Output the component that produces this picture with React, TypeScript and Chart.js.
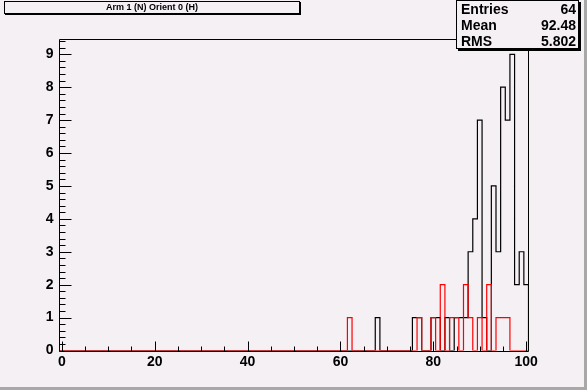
import React, { useEffect, useRef } from 'react';
import { Chart, registerables } from 'chart.js';

Chart.register(...registerables);

const TITLE = 'Arm 1 (N) Orient 0 (H)';
const X_MIN = -0.5;
const X_MAX = 100.5;
const Y_MAX = 9.45;
const N_BINS = 101;

const xTickLabels = [0, 20, 40, 60, 80, 100];
const yTickLabels = [0, 1, 2, 3, 4, 5, 6, 7, 8, 9];

// black histogram: bin centres and their counts
const blackBins = [68, 76, 77, 80, 81, 83, 85, 86, 87, 88, 89, 90, 91, 93, 94, 95, 96, 97, 98, 99, 100];
const blackCounts = [1, 1, 1, 1, 1, 1, 1, 1, 1, 3, 4, 7, 1, 5, 3, 8, 7, 9, 2, 3, 2];

// red histogram: bin centres and their counts
const redBins = [62, 77, 80, 82, 84, 85, 87, 88, 90, 92, 94, 95, 96];
const redCounts = [1, 1, 1, 2, 1, 1, 2, 1, 1, 2, 1, 1, 1];

const statsLabels = ['Entries', 'Mean', 'RMS'];
const statsValues = ['64', '92.48', '5.802'];

const BG = '#f4f0f4';
const FONT = '"Liberation Sans", Arial, Helvetica, sans-serif';

function outline(bins: number[], counts: number[]) {
  const values = new Array(N_BINS).fill(0);
  bins.forEach((b, i) => {
    values[b] += counts[i];
  });
  const pts: { x: number; y: number }[] = [{ x: X_MIN, y: 0 }];
  for (let i = 0; i < N_BINS; i++) pts.push({ x: i + 0.5, y: values[i] });
  pts.push({ x: X_MAX, y: 0 });
  return pts;
}

const framePlugin = {
  id: 'rootFrame',
  afterDatasetsDraw(chart: any) {
    const { ctx, chartArea, scales } = chart;
    const { left, right, top, bottom } = chartArea;
    const xs = scales.x;
    const ys = scales.y;
    ctx.save();
    ctx.lineWidth = 1;
    ctx.strokeStyle = '#000';
    ctx.beginPath();
    ctx.moveTo(left, top);
    ctx.lineTo(right, top);
    ctx.lineTo(right, bottom + 1);
    ctx.stroke();
    ctx.beginPath();
    ctx.moveTo(left, top);
    ctx.lineTo(left, bottom + 1);
    ctx.lineTo(right, bottom + 1);
    ctx.stroke();
    ctx.beginPath();
    for (let k = 0; k / 5 <= Y_MAX; k++) {
      const py = Math.round(ys.getPixelForValue(k / 5)) + 0.5;
      const len = k % 5 === 0 ? 12 : 6;
      ctx.moveTo(left, py);
      ctx.lineTo(left + len, py);
    }
    for (let v = 0; v <= 100; v += 5) {
      const px = Math.round(xs.getPixelForValue(v)) + 0.5;
      const len = v % 20 === 0 ? 10 : 5;
      ctx.moveTo(px, bottom + 1);
      ctx.lineTo(px, bottom + 1 - len);
    }
    ctx.stroke();
    ctx.restore();
  },
};

export default function App() {
  const ref = useRef<HTMLCanvasElement>(null);

  useEffect(() => {
    const tickFont = { family: FONT, size: 14, weight: 'bold' as const };
    const chart = new Chart(ref.current!, {
      type: 'line',
      data: {
        datasets: [
          {
            label: 'red',
            data: outline(redBins, redCounts),
            borderColor: '#ff0000',
            borderWidth: 1.2,
            pointRadius: 0,
            stepped: 'after',
            fill: false,
            order: 0,
          },
          {
            label: 'black',
            data: outline(blackBins, blackCounts),
            borderColor: '#000000',
            borderWidth: 1.2,
            pointRadius: 0,
            stepped: 'after',
            fill: false,
            order: 1,
          },
        ],
      },
      options: {
        animation: false,
        responsive: false,
        devicePixelRatio: 1,
        layout: { padding: { left: 0, top: 39.5, right: 58.5, bottom: 0 } },
        plugins: {
          legend: { display: false },
          tooltip: { enabled: false },
          title: { display: false },
        },
        scales: {
          x: {
            type: 'linear',
            min: X_MIN,
            max: X_MAX,
            grid: { display: false, drawTicks: false },
            border: { display: false },
            afterBuildTicks: (s: any) => {
              s.ticks = xTickLabels.map((v) => ({ value: v }));
            },
            afterFit: (s: any) => {
              s.height = 39.5;
            },
            ticks: {
              font: tickFont,
              color: '#000',
              padding: 3,
              maxRotation: 0,
              autoSkip: false,
              callback: (v: any) => String(v),
            },
          },
          y: {
            type: 'linear',
            min: 0,
            max: Y_MAX,
            grid: { display: false, drawTicks: false },
            border: { display: false },
            afterBuildTicks: (s: any) => {
              s.ticks = yTickLabels.map((v) => ({ value: v }));
            },
            afterFit: (s: any) => {
              s.width = 59.5;
            },
            ticks: {
              font: tickFont,
              color: '#000',
              padding: 6,
              autoSkip: false,
              callback: (v: any) => String(v),
            },
          },
        },
      },
      plugins: [framePlugin],
    });
    return () => chart.destroy();
  }, []);

  return (
    <div
      style={{
        position: 'fixed',
        left: 0,
        top: 0,
        width: 587,
        height: 390,
        background: BG,
        overflow: 'hidden',
        fontFamily: FONT,
      }}
    >
      <canvas
        ref={ref}
        width={587}
        height={390}
        style={{ position: 'absolute', left: 0, top: 0, width: 587, height: 390 }}
      />
      <div
        style={{
          position: 'absolute',
          left: 4,
          top: 1,
          width: 294,
          height: 11,
          border: '1px solid #000',
          boxShadow: '1px 1px 0 #000',
          background: BG,
          fontSize: 9,
          fontWeight: 'bold',
          lineHeight: '11px',
          textAlign: 'center',
        }}
      >
        {TITLE}
      </div>
      <div
        style={{
          position: 'absolute',
          left: 456,
          top: 0,
          width: 121,
          height: 47,
          border: '1px solid #000',
          boxShadow: '2px 2px 0 #000',
          background: BG,
          fontSize: 14,
          fontWeight: 'bold',
        }}
      >
        {statsLabels.map((l, i) => (
          <div
            key={l}
            style={{
              display: 'flex',
              justifyContent: 'space-between',
              height: 16,
              lineHeight: '16px',
              padding: '0 2px 0 4px',
            }}
          >
            <span>{l}</span>
            <span>{statsValues[i]}</span>
          </div>
        ))}
      </div>
      <div style={{ position: 'absolute', right: 0, top: 0, width: 3, height: 390, background: '#a8a8a8' }} />
      <div style={{ position: 'absolute', left: 0, bottom: 0, width: 587, height: 3, background: '#a8a8a8' }} />
    </div>
  );
}
